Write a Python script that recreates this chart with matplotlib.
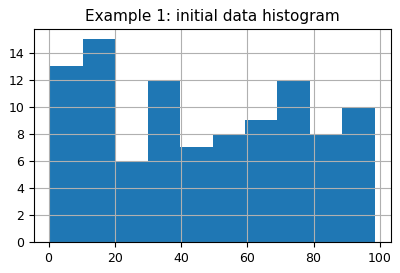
import matplotlib
matplotlib.use("Agg")
import matplotlib.pyplot as plt
import numpy as np

counts = [13, 15, 6, 12, 7, 8, 9, 12, 8, 10]
data_min = 0.5
data_max = 98.5
title = "Example 1: initial data histogram"

edges = np.linspace(data_min, data_max, len(counts) + 1)
centers = (edges[:-1] + edges[1:]) / 2

fig = plt.figure(figsize=(4.0, 2.73), dpi=100)
ax = fig.add_axes([34/400, 1 - 242/273, (391-34)/400, (242-29)/273])
ax.hist(centers, bins=edges, weights=counts, color="#1f77b4")
ax.grid(True)
ax.set_title(title, fontsize=11)
ax.tick_params(labelsize=9)
ax.set_yticks(range(0, 16, 2))
fig.savefig("out.png", dpi=100)
